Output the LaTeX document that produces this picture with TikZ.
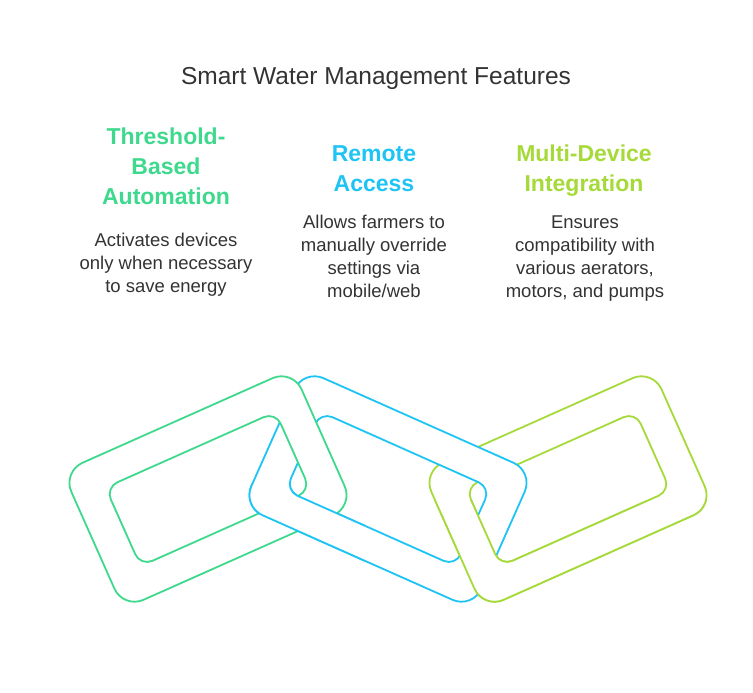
\documentclass[tikz,border=0pt]{standalone}
\usepackage{fontspec}
\setmainfont{Liberation Sans}
\definecolor{linkgreen}{HTML}{3ED98D}
\definecolor{linkblue}{HTML}{1EC4F4}
\definecolor{linklime}{HTML}{A6D93A}
\definecolor{textgray}{HTML}{333333}
\tikzset{
  linkring/.style={fill=white, even odd rule, line width=1.8pt, rounded corners=22pt},
  heading/.style={font=\fontsize{23}{30}\selectfont\bfseries, align=center, anchor=base, inner sep=0pt},
  blurb/.style={font=\fontsize{18.5}{23}\selectfont, text=textgray, align=center, anchor=base, inner sep=0pt}
}
\newcommand{\chainlink}[4]{%
  \path[linkring, draw=#4, shift={(#1,#2)}, rotate=#3] (-126,-75) rectangle (126,75)
    [rounded corners=13pt] (-93,-43) rectangle (93,43);}
\begin{document}
\begin{tikzpicture}[x=1pt, y=-1pt, line join=round, line cap=round]
            \useasboundingbox (0,0) rectangle (753,693);
            \node (title) at (376,84.5)[anchor=base, inner sep=0pt, text=textgray, font=\fontsize{24.5}{29}\selectfont]{Smart Water Management Features};
            \node (autohead) at (166,204.3)[heading, text=linkgreen]{Threshold-\\Based\\Automation};
            \node (remotehead) at (374,191)[heading, text=linkblue]{Remote\\Access};
            \node (devicehead) at (584,191)[heading, text=linklime]{Multi-Device\\Integration};
            \node (autotext) at (166,292)[blurb]{Activates devices\\only when necessary\\to save energy};
            \node (remotetext) at (374,297)[blurb]{Allows farmers to\\manually override\\settings via\\mobile/web};
            \node (devicetext) at (585,297)[blurb]{Ensures\\compatibility with\\various aerators,\\motors, and pumps};
            \chainlink{568}{489}{24}{linklime}
            \chainlink{388}{489}{-24}{linkblue}
            \chainlink{208}{489}{24}{linkgreen}
            \begin{scope}
                \clip (230,482) rectangle (365,620);
                \chainlink{388}{489}{-24}{linkblue}
            \end{scope}
            \begin{scope}
                \clip (415,500) rectangle (720,620);
                \chainlink{568}{489}{24}{linklime}
            \end{scope}
        \end{tikzpicture}
\end{document}
